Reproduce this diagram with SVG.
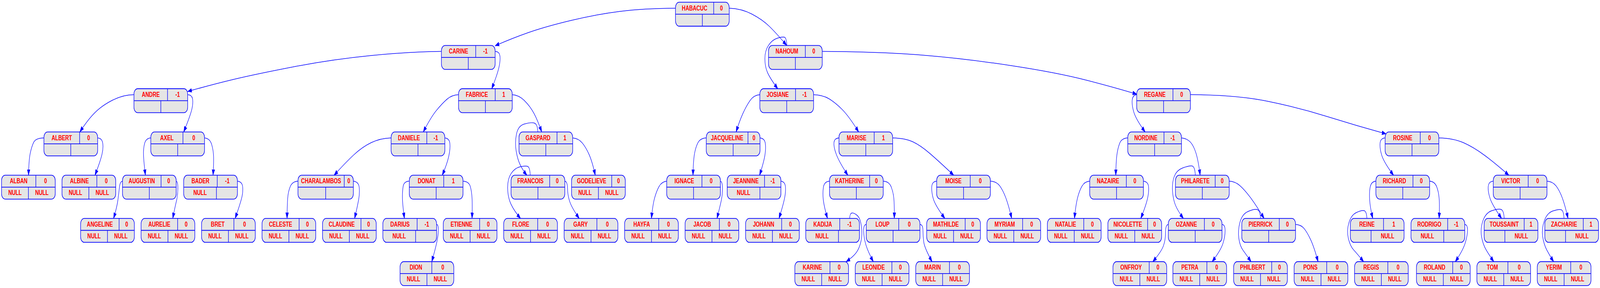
<svg xmlns="http://www.w3.org/2000/svg" width="5719" height="737" viewBox="0 0 5719 737" preserveAspectRatio="none" style="width:100vw;height:100vh;display:block">
<style>
.nb{fill:#e5e5e5;stroke:#0000ff;stroke-width:1.8}
.nd{fill:none;stroke:#0000ff;stroke-width:1.8}
.t{font-family:"Liberation Sans",Arial,Helvetica,sans-serif;font-weight:bold;font-size:18px;fill:#ff0000;text-anchor:middle}
.e{fill:none;stroke:#0000ff;stroke-width:1.5;marker-end:url(#ah)}
</style>
<defs>
<marker id="ah" markerUnits="userSpaceOnUse" markerWidth="16" markerHeight="12" viewBox="0 -6 16 12" refX="14.5" refY="0" orient="auto">
<path d="M0,-5 L14.5,0 L0,5 Z" fill="#0000ff" stroke="#0000ff" stroke-width="1"/>
</marker>
</defs>
<rect width="5719" height="737" fill="#ffffff"/>
<g id="edges">
<path class="e" d="M1577.8,131.5 Q1470,132 1328,142 Q1186,152 1049,171 Q912,190 836,203 Q760,216 671,234"/>
<path class="e" d="M478.8,242.3 Q440,242.5 402.4,256.3 Q364.8,270 339.7,287.8 Q314.6,305.5 285.5,337.6"/>
<path class="e" d="M670.8,242.3 Q685,242.5 688,252.3 Q691,262 686,278.5 Q681,295 656.6,337.6"/>
<path class="e" d="M157,352.9 Q128,353 120.5,364 Q113,375 108,392.5 Q103,410 102,448.3"/>
<path class="e" d="M349,352.9 Q364,353.5 367,365.8 Q370,378 364.5,395 Q359,412 339.5,448.3"/>
<path class="e" d="M539,352.9 Q522,353.5 517,366.8 Q512,380 513,397.5 Q514,415 519.8,448.3"/>
<path class="e" d="M731,352.9 Q750,354 756.5,369.5 Q763,385 763.5,402.5 Q764,420 761.5,448.3"/>
<path class="e" d="M437.8,463.5 Q429,464.5 426.8,479.8 Q424.5,495 421.3,512.5 Q418,530 406,558.9"/>
<path class="e" d="M629.8,463.5 Q636,465 635.8,482.5 Q635.5,500 630.8,514 Q626,528 617.4,558.9"/>
<path class="e" d="M848.6,463.5 Q866,465 867.5,479 Q869,493 863,509 Q857,525 840.5,558.9"/>
<path class="e" d="M1065,463.5 Q1045,464.5 1037.5,477.3 Q1030,490 1028.3,507.5 Q1026.5,525 1026,558.9"/>
<path class="e" d="M1263,463.5 Q1282,465 1284,480 Q1286,495 1281.5,512.5 Q1277,530 1267.6,558.9"/>
<path class="e" d="M2414.5,21 Q2300,21.5 2215,29.3 Q2130,37 2040,52.5 Q1950,68 1890,83 Q1830,98 1770,117"/>
<path class="e" d="M2606.5,21 Q2650,22 2687.5,36 Q2725,50 2750,67.5 Q2775,85 2811.7,116"/>
<path class="e" d="M1769.8,131.6 Q1785,132 1787,143.5 Q1789,155 1783,173.5 Q1777,192 1757.5,227.2"/>
<path class="e" d="M1639,242.3 Q1615,243 1597.5,254 Q1580,265 1560,282.5 Q1540,300 1513,337.6"/>
<path class="e" d="M1831,242.3 Q1855,243.5 1875,257.8 Q1895,272 1908.5,290 Q1922,308 1936.2,337.6"/>
<path class="e" d="M1398,352.9 Q1360,353.5 1327.5,364.8 Q1295,376 1265,396 Q1235,416 1194,448.5"/>
<path class="e" d="M1590,352.9 Q1606,354 1608,367 Q1610,380 1604,400 Q1598,420 1580.6,448.5"/>
<path class="e" d="M1922.6,337.6 Q1921,316 1908,314.5 Q1895,313 1873.5,317.5 Q1852,322 1846,343.5 Q1840,365 1845,386.5 Q1850,408 1859.5,422 Q1869,436 1883.4,448.5"/>
<path class="e" d="M2047,352.9 Q2068,354 2081.5,366 Q2095,378 2106,396 Q2117,414 2127.8,448.5"/>
<path class="e" d="M1463,463.5 Q1444,464 1441,477 Q1438,490 1438.5,507.5 Q1439,525 1445.6,558.9"/>
<path class="e" d="M1655,463.5 Q1676,464.5 1681,477.3 Q1686,490 1687.3,507.5 Q1688.5,525 1687.3,558.9"/>
<path class="e" d="M1560.5,574.2 Q1567,574.8 1567,587.4 Q1567,600 1561.5,619 Q1556,638 1543.2,669.7"/>
<path class="e" d="M1895.2,448.3 Q1894,427 1885,425.5 Q1876,424 1858,427 Q1840,430 1827,444 Q1814,458 1814.5,481.5 Q1815,505 1826.5,522.5 Q1838,540 1860.6,559"/>
<path class="e" d="M2018.8,463.5 Q2028,464.5 2028.5,482.3 Q2029,500 2036.5,516 Q2044,532 2070.3,559"/>
<path class="e" d="M2716,242.3 Q2694,243.5 2680.5,257.8 Q2667,272 2655,291 Q2643,310 2631.2,337.6"/>
<path class="e" d="M2524.5,352.9 Q2502,353.5 2493.5,366.8 Q2485,380 2481.5,397.5 Q2478,415 2477,448.5"/>
<path class="e" d="M2716.5,352.9 Q2733,354 2735.5,367 Q2738,380 2734,397.5 Q2730,415 2715,448.5"/>
<path class="e" d="M2383,463.5 Q2365,465 2355.5,477.5 Q2346,490 2339.5,507.5 Q2333,525 2328.4,558.9"/>
<path class="e" d="M2575,463.5 Q2582,465 2582.5,481 Q2583,497 2578,513.5 Q2573,530 2562.7,558.9"/>
<path class="e" d="M2791.3,463.5 Q2806,465 2807.5,478.5 Q2809,492 2803.5,510 Q2798,528 2784.4,558.9"/>
<path class="e" d="M2812.7,116.3 Q2811,96 2803,95 Q2795,94 2777.5,98 Q2760,102 2747,116 Q2734,130 2734,150 Q2734,170 2743,185 Q2752,200 2780,227.2"/>
<path class="e" d="M2939,131.6 Q3150,132.5 3300,141.3 Q3450,150 3615,168 Q3780,186 3885,205.5 Q3990,225 4063,241"/>
<path class="e" d="M2908,242.3 Q2940,243 2962.5,252.5 Q2985,262 3010,280 Q3035,298 3069,337.6"/>
<path class="e" d="M2998.7,352.9 Q2983,353.5 2981,364.3 Q2979,375 2989,394.5 Q2999,414 3030.6,448.5"/>
<path class="e" d="M3190.7,352.9 Q3235,353.5 3262.5,362.8 Q3290,372 3322.5,392 Q3355,412 3409,448.5"/>
<path class="e" d="M2965,463.5 Q2946,464.5 2943,479.8 Q2940,495 2943,512.5 Q2946,530 2957.7,558.9"/>
<path class="e" d="M3157,463.5 Q3178,464.5 3185.5,478.3 Q3193,492 3195,508.5 Q3197,525 3196.6,558.9"/>
<path class="e" d="M3037,558.9 Q3038,546 3045,545 Q3052,544 3063.5,551 Q3075,558 3079,579 Q3083,600 3077.5,617.5 Q3072,635 3061,646 Q3050,657 3024.3,669.7"/>
<path class="e" d="M3096.3,574.2 Q3086,575 3087,592.5 Q3088,610 3095.5,627.5 Q3103,645 3121.8,669.7"/>
<path class="e" d="M3288.3,574.2 Q3299,575 3299,590 Q3299,605 3302,620 Q3305,635 3331.6,669.7"/>
<path class="e" d="M3348,463.5 Q3332,464.5 3330.5,477.3 Q3329,490 3335.5,507.5 Q3342,525 3377.2,558.9"/>
<path class="e" d="M3540,463.5 Q3562,464.5 3573.5,475.8 Q3585,487 3595,506 Q3605,525 3616.2,558.9"/>
<path class="e" d="M4063,242.3 Q4049,243 4047,255.5 Q4045,268 4052.5,286.5 Q4060,305 4093,337.6"/>
<path class="e" d="M4031,352.9 Q4009,353.5 4002,366.8 Q3995,380 3992,397.5 Q3989,415 3988.2,448.5"/>
<path class="e" d="M4223,352.9 Q4242,354 4254,363 Q4266,372 4274.5,391 Q4283,410 4289.8,448.5"/>
<path class="e" d="M3895,463.5 Q3877,464.5 3867.5,476.3 Q3858,488 3851.5,506.5 Q3845,525 3840.5,558.9"/>
<path class="e" d="M4087,463.5 Q4104,465 4105.5,478.5 Q4107,492 4101,510 Q4095,528 4077.6,558.9"/>
<path class="e" d="M4272.5,448.3 Q4271,425 4259.5,424.5 Q4248,424 4226.5,430 Q4205,436 4197,452 Q4189,468 4191,489 Q4193,510 4201.5,525 Q4210,540 4230,559"/>
<path class="e" d="M4176,574.2 Q4166,575 4166,595 Q4166,615 4158,630 Q4150,645 4120.5,669.7"/>
<path class="e" d="M4368,574.2 Q4379,575 4379,590 Q4379,605 4371.5,622.5 Q4364,640 4332.6,669.7"/>
<path class="e" d="M4255,242.3 Q4420,243 4530,259 Q4640,275 4745,298.5 Q4850,322 4954,342.5"/>
<path class="e" d="M4393.6,463.5 Q4415,464.5 4431.5,474.8 Q4448,485 4469,505 Q4490,525 4518.3,559"/>
<path class="e" d="M4505.7,558.9 Q4504,537 4492,536 Q4480,535 4460,541.5 Q4440,548 4432,569 Q4424,590 4428,610 Q4432,630 4443.5,641 Q4455,652 4471.7,669.7"/>
<path class="e" d="M4630.7,574.2 Q4650,575 4661,584.5 Q4672,594 4684.5,613 Q4697,632 4711.3,669.7"/>
<path class="e" d="M4951,352.9 Q4935,353.5 4933,365.8 Q4931,378 4938.5,396.5 Q4946,415 4981.1,448.5"/>
<path class="e" d="M5143,352.9 Q5195,353.5 5231.5,365.3 Q5268,377 5306.5,397.5 Q5345,418 5393.3,448.5"/>
<path class="e" d="M4918,463.5 Q4902,464.5 4898,477.3 Q4894,490 4895.5,510 Q4897,530 4906.7,558.9"/>
<path class="e" d="M5110,463.5 Q5128,464.5 5135,477.3 Q5142,490 5144,507.5 Q5146,525 5144,558.9"/>
<path class="e" d="M4885.8,558.9 Q4884.5,540 4875.3,539 Q4866,538 4848,544 Q4830,550 4821.5,570 Q4813,590 4819.5,610 Q4826,630 4839,640 Q4852,650 4874.1,669.7"/>
<path class="e" d="M5235.5,574.2 Q5245,575 5245.5,587.5 Q5246,600 5238,620 Q5230,640 5201.7,669.7"/>
<path class="e" d="M5337.5,463.5 Q5321,464.5 5319.5,477.3 Q5318,490 5326,507.5 Q5334,525 5367.3,558.9"/>
<path class="e" d="M5529.5,463.5 Q5550,464.5 5562,475.8 Q5574,487 5584,506 Q5594,525 5604.6,558.9"/>
<path class="e" d="M5376.5,558.9 Q5375,537 5363.5,535.5 Q5352,534 5331,539.5 Q5310,545 5300.5,565 Q5291,585 5295.5,605 Q5300,625 5312.5,640 Q5325,655 5339.4,669.7"/>
<path class="e" d="M5590.4,558.9 Q5589,538 5579.5,536.5 Q5570,535 5550,540 Q5530,545 5520,565 Q5510,585 5514,605 Q5518,625 5529,640 Q5540,655 5553.4,669.7"/>
</g>
<g id="n-HABACUC" transform="translate(2414.5,5.7)"><rect class="nb" width="192" height="61.3" rx="13.5"/><path class="nd" d="M0,30.6H192M136.5,0V30.6M96,30.6V61.3"/><text class="t" x="68.25" y="21">HABACUC</text><text class="t" x="164.25" y="21">0</text></g>
<g id="n-CARINE" transform="translate(1577.8,116.3)"><rect class="nb" width="192" height="61.3" rx="13.5"/><path class="nd" d="M0,30.6H192M122.5,0V30.6M96,30.6V61.3"/><text class="t" x="61.25" y="21">CARINE</text><text class="t" x="157.25" y="21">-1</text></g>
<g id="n-NAHOUM" transform="translate(2747,116.3)"><rect class="nb" width="192" height="61.3" rx="13.5"/><path class="nd" d="M0,30.6H192M131.5,0V30.6M96,30.6V61.3"/><text class="t" x="65.75" y="21">NAHOUM</text><text class="t" x="161.75" y="21">0</text></g>
<g id="n-ANDRE" transform="translate(478.8,227)"><rect class="nb" width="192" height="61.3" rx="13.5"/><path class="nd" d="M0,30.6H192M120,0V30.6M96,30.6V61.3"/><text class="t" x="60" y="21">ANDRE</text><text class="t" x="156" y="21">-1</text></g>
<g id="n-FABRICE" transform="translate(1639,227)"><rect class="nb" width="192" height="61.3" rx="13.5"/><path class="nd" d="M0,30.6H192M131,0V30.6M96,30.6V61.3"/><text class="t" x="65.5" y="21">FABRICE</text><text class="t" x="161.5" y="21">1</text></g>
<g id="n-JOSIANE" transform="translate(2716,227)"><rect class="nb" width="192" height="61.3" rx="13.5"/><path class="nd" d="M0,30.6H192M127.5,0V30.6M96,30.6V61.3"/><text class="t" x="63.75" y="21">JOSIANE</text><text class="t" x="159.75" y="21">-1</text></g>
<g id="n-REGANE" transform="translate(4063,227)"><rect class="nb" width="192" height="61.3" rx="13.5"/><path class="nd" d="M0,30.6H192M129.5,0V30.6M96,30.6V61.3"/><text class="t" x="64.75" y="21">REGANE</text><text class="t" x="160.75" y="21">0</text></g>
<g id="n-ALBERT" transform="translate(157,337.6)"><rect class="nb" width="192" height="61.3" rx="13.5"/><path class="nd" d="M0,30.6H192M127.5,0V30.6M96,30.6V61.3"/><text class="t" x="63.75" y="21">ALBERT</text><text class="t" x="159.75" y="21">0</text></g>
<g id="n-AXEL" transform="translate(539,337.6)"><rect class="nb" width="192" height="61.3" rx="13.5"/><path class="nd" d="M0,30.6H192M115,0V30.6M96,30.6V61.3"/><text class="t" x="57.5" y="21">AXEL</text><text class="t" x="153.5" y="21">0</text></g>
<g id="n-DANIELE" transform="translate(1398,337.6)"><rect class="nb" width="192" height="61.3" rx="13.5"/><path class="nd" d="M0,30.6H192M127.5,0V30.6M96,30.6V61.3"/><text class="t" x="63.75" y="21">DANIELE</text><text class="t" x="159.75" y="21">-1</text></g>
<g id="n-GASPARD" transform="translate(1855,337.6)"><rect class="nb" width="192" height="61.3" rx="13.5"/><path class="nd" d="M0,30.6H192M136,0V30.6M96,30.6V61.3"/><text class="t" x="68" y="21">GASPARD</text><text class="t" x="164" y="21">1</text></g>
<g id="n-JACQUELINE" transform="translate(2524.5,337.6)"><rect class="nb" width="192" height="61.3" rx="13.5"/><path class="nd" d="M0,30.6H192M149,0V30.6M96,30.6V61.3"/><text class="t" x="74.5" y="21">JACQUELINE</text><text class="t" x="170.5" y="21">0</text></g>
<g id="n-MARISE" transform="translate(2998.7,337.6)"><rect class="nb" width="192" height="61.3" rx="13.5"/><path class="nd" d="M0,30.6H192M126,0V30.6M96,30.6V61.3"/><text class="t" x="63" y="21">MARISE</text><text class="t" x="159" y="21">1</text></g>
<g id="n-NORDINE" transform="translate(4031,337.6)"><rect class="nb" width="192" height="61.3" rx="13.5"/><path class="nd" d="M0,30.6H192M129.5,0V30.6M96,30.6V61.3"/><text class="t" x="64.75" y="21">NORDINE</text><text class="t" x="160.75" y="21">-1</text></g>
<g id="n-ROSINE" transform="translate(4951,337.6)"><rect class="nb" width="192" height="61.3" rx="13.5"/><path class="nd" d="M0,30.6H192M125.5,0V30.6M96,30.6V61.3"/><text class="t" x="62.75" y="21">ROSINE</text><text class="t" x="158.75" y="21">0</text></g>
<g id="n-ALBAN" transform="translate(5.5,448.3)"><rect class="nb" width="192" height="61.3" rx="13.5"/><path class="nd" d="M0,30.6H192M122.5,0V30.6M96,30.6V61.3"/><text class="t" x="61.25" y="21">ALBAN</text><text class="t" x="157.25" y="21">0</text><text class="t" x="48" y="51">NULL</text><text class="t" x="144" y="51">NULL</text></g>
<g id="n-ALBINE" transform="translate(221.6,448.3)"><rect class="nb" width="192" height="61.3" rx="13.5"/><path class="nd" d="M0,30.6H192M124.5,0V30.6M96,30.6V61.3"/><text class="t" x="62.25" y="21">ALBINE</text><text class="t" x="158.25" y="21">0</text><text class="t" x="48" y="51">NULL</text><text class="t" x="144" y="51">NULL</text></g>
<g id="n-AUGUSTIN" transform="translate(437.8,448.3)"><rect class="nb" width="192" height="61.3" rx="13.5"/><path class="nd" d="M0,30.6H192M138,0V30.6M96,30.6V61.3"/><text class="t" x="69" y="21">AUGUSTIN</text><text class="t" x="165" y="21">0</text></g>
<g id="n-BADER" transform="translate(656.6,448.3)"><rect class="nb" width="192" height="61.3" rx="13.5"/><path class="nd" d="M0,30.6H192M120,0V30.6M117,30.6V61.3"/><text class="t" x="60" y="21">BADER</text><text class="t" x="156" y="21">-1</text><text class="t" x="58.5" y="51">NULL</text></g>
<g id="n-CHARALAMBOS" transform="translate(1065,448.3)"><rect class="nb" width="198" height="61.3" rx="13.5"/><path class="nd" d="M0,30.6H198M165.5,0V30.6M99,30.6V61.3"/><text class="t" x="82.75" y="21">CHARALAMBOS</text><text class="t" x="181.75" y="21">0</text></g>
<g id="n-DONAT" transform="translate(1463,448.3)"><rect class="nb" width="192" height="61.3" rx="13.5"/><path class="nd" d="M0,30.6H192M123,0V30.6M96,30.6V61.3"/><text class="t" x="61.5" y="21">DONAT</text><text class="t" x="157.5" y="21">1</text></g>
<g id="n-FRANCOIS" transform="translate(1826.8,448.3)"><rect class="nb" width="192" height="61.3" rx="13.5"/><path class="nd" d="M0,30.6H192M138,0V30.6M96,30.6V61.3"/><text class="t" x="69" y="21">FRANCOIS</text><text class="t" x="165" y="21">0</text></g>
<g id="n-GODELIEVE" transform="translate(2043,448.3)"><rect class="nb" width="192" height="61.3" rx="13.5"/><path class="nd" d="M0,30.6H192M143.5,0V30.6M96,30.6V61.3"/><text class="t" x="71.75" y="21">GODELIEVE</text><text class="t" x="167.75" y="21">0</text><text class="t" x="48" y="51">NULL</text><text class="t" x="144" y="51">NULL</text></g>
<g id="n-IGNACE" transform="translate(2383,448.3)"><rect class="nb" width="192" height="61.3" rx="13.5"/><path class="nd" d="M0,30.6H192M126,0V30.6M96,30.6V61.3"/><text class="t" x="63" y="21">IGNACE</text><text class="t" x="159" y="21">0</text></g>
<g id="n-JEANNINE" transform="translate(2599.3,448.3)"><rect class="nb" width="192" height="61.3" rx="13.5"/><path class="nd" d="M0,30.6H192M133.5,0V30.6M117,30.6V61.3"/><text class="t" x="66.75" y="21">JEANNINE</text><text class="t" x="162.75" y="21">-1</text><text class="t" x="58.5" y="51">NULL</text></g>
<g id="n-KATHERINE" transform="translate(2965,448.3)"><rect class="nb" width="192" height="61.3" rx="13.5"/><path class="nd" d="M0,30.6H192M143.5,0V30.6M96,30.6V61.3"/><text class="t" x="71.75" y="21">KATHERINE</text><text class="t" x="167.75" y="21">0</text></g>
<g id="n-MOISE" transform="translate(3348,448.3)"><rect class="nb" width="192" height="61.3" rx="13.5"/><path class="nd" d="M0,30.6H192M120,0V30.6M96,30.6V61.3"/><text class="t" x="60" y="21">MOISE</text><text class="t" x="156" y="21">0</text></g>
<g id="n-NAZAIRE" transform="translate(3895,448.3)"><rect class="nb" width="192" height="61.3" rx="13.5"/><path class="nd" d="M0,30.6H192M131,0V30.6M96,30.6V61.3"/><text class="t" x="65.5" y="21">NAZAIRE</text><text class="t" x="161.5" y="21">0</text></g>
<g id="n-PHILARETE" transform="translate(4201.6,448.3)"><rect class="nb" width="192" height="61.3" rx="13.5"/><path class="nd" d="M0,30.6H192M142,0V30.6M96,30.6V61.3"/><text class="t" x="71" y="21">PHILARETE</text><text class="t" x="167" y="21">0</text></g>
<g id="n-RICHARD" transform="translate(4918,448.3)"><rect class="nb" width="192" height="61.3" rx="13.5"/><path class="nd" d="M0,30.6H192M132.5,0V30.6M96,30.6V61.3"/><text class="t" x="66.25" y="21">RICHARD</text><text class="t" x="162.25" y="21">0</text></g>
<g id="n-VICTOR" transform="translate(5337.5,448.3)"><rect class="nb" width="192" height="61.3" rx="13.5"/><path class="nd" d="M0,30.6H192M125,0V30.6M96,30.6V61.3"/><text class="t" x="62.5" y="21">VICTOR</text><text class="t" x="158.5" y="21">0</text></g>
<g id="n-ANGELINE" transform="translate(288.2,558.9)"><rect class="nb" width="192" height="61.3" rx="13.5"/><path class="nd" d="M0,30.6H192M137.5,0V30.6M96,30.6V61.3"/><text class="t" x="68.75" y="21">ANGELINE</text><text class="t" x="164.75" y="21">0</text><text class="t" x="48" y="51">NULL</text><text class="t" x="144" y="51">NULL</text></g>
<g id="n-AURELIE" transform="translate(504.3,558.9)"><rect class="nb" width="192" height="61.3" rx="13.5"/><path class="nd" d="M0,30.6H192M130.5,0V30.6M96,30.6V61.3"/><text class="t" x="65.25" y="21">AURELIE</text><text class="t" x="161.25" y="21">0</text><text class="t" x="48" y="51">NULL</text><text class="t" x="144" y="51">NULL</text></g>
<g id="n-BRET" transform="translate(720.5,558.9)"><rect class="nb" width="192" height="61.3" rx="13.5"/><path class="nd" d="M0,30.6H192M115.5,0V30.6M96,30.6V61.3"/><text class="t" x="57.75" y="21">BRET</text><text class="t" x="153.75" y="21">0</text><text class="t" x="48" y="51">NULL</text><text class="t" x="144" y="51">NULL</text></g>
<g id="n-CELESTE" transform="translate(936.6,558.9)"><rect class="nb" width="192" height="61.3" rx="13.5"/><path class="nd" d="M0,30.6H192M132.5,0V30.6M96,30.6V61.3"/><text class="t" x="66.25" y="21">CELESTE</text><text class="t" x="162.25" y="21">0</text><text class="t" x="48" y="51">NULL</text><text class="t" x="144" y="51">NULL</text></g>
<g id="n-CLAUDINE" transform="translate(1152.8,558.9)"><rect class="nb" width="192" height="61.3" rx="13.5"/><path class="nd" d="M0,30.6H192M137.5,0V30.6M96,30.6V61.3"/><text class="t" x="68.75" y="21">CLAUDINE</text><text class="t" x="164.75" y="21">0</text><text class="t" x="48" y="51">NULL</text><text class="t" x="144" y="51">NULL</text></g>
<g id="n-DARIUS" transform="translate(1368.5,558.9)"><rect class="nb" width="192" height="61.3" rx="13.5"/><path class="nd" d="M0,30.6H192M122.5,0V30.6M117,30.6V61.3"/><text class="t" x="61.25" y="21">DARIUS</text><text class="t" x="157.25" y="21">-1</text><text class="t" x="58.5" y="51">NULL</text></g>
<g id="n-ETIENNE" transform="translate(1584.4,558.9)"><rect class="nb" width="192" height="61.3" rx="13.5"/><path class="nd" d="M0,30.6H192M130,0V30.6M96,30.6V61.3"/><text class="t" x="65" y="21">ETIENNE</text><text class="t" x="161" y="21">0</text><text class="t" x="48" y="51">NULL</text><text class="t" x="144" y="51">NULL</text></g>
<g id="n-FLORE" transform="translate(1800.4,558.9)"><rect class="nb" width="192" height="61.3" rx="13.5"/><path class="nd" d="M0,30.6H192M121.5,0V30.6M96,30.6V61.3"/><text class="t" x="60.75" y="21">FLORE</text><text class="t" x="156.75" y="21">0</text><text class="t" x="48" y="51">NULL</text><text class="t" x="144" y="51">NULL</text></g>
<g id="n-GARY" transform="translate(2016.5,558.9)"><rect class="nb" width="192" height="61.3" rx="13.5"/><path class="nd" d="M0,30.6H192M117,0V30.6M96,30.6V61.3"/><text class="t" x="58.5" y="21">GARY</text><text class="t" x="154.5" y="21">0</text><text class="t" x="48" y="51">NULL</text><text class="t" x="144" y="51">NULL</text></g>
<g id="n-HAYFA" transform="translate(2232.6,558.9)"><rect class="nb" width="192" height="61.3" rx="13.5"/><path class="nd" d="M0,30.6H192M122,0V30.6M96,30.6V61.3"/><text class="t" x="61" y="21">HAYFA</text><text class="t" x="157" y="21">0</text><text class="t" x="48" y="51">NULL</text><text class="t" x="144" y="51">NULL</text></g>
<g id="n-JACOB" transform="translate(2448.8,558.9)"><rect class="nb" width="192" height="61.3" rx="13.5"/><path class="nd" d="M0,30.6H192M122.5,0V30.6M96,30.6V61.3"/><text class="t" x="61.25" y="21">JACOB</text><text class="t" x="157.25" y="21">0</text><text class="t" x="48" y="51">NULL</text><text class="t" x="144" y="51">NULL</text></g>
<g id="n-JOHANN" transform="translate(2665,558.9)"><rect class="nb" width="192" height="61.3" rx="13.5"/><path class="nd" d="M0,30.6H192M129,0V30.6M96,30.6V61.3"/><text class="t" x="64.5" y="21">JOHANN</text><text class="t" x="160.5" y="21">0</text><text class="t" x="48" y="51">NULL</text><text class="t" x="144" y="51">NULL</text></g>
<g id="n-KADIJA" transform="translate(2880,558.9)"><rect class="nb" width="192" height="61.3" rx="13.5"/><path class="nd" d="M0,30.6H192M121.5,0V30.6M117,30.6V61.3"/><text class="t" x="60.75" y="21">KADIJA</text><text class="t" x="156.75" y="21">-1</text><text class="t" x="58.5" y="51">NULL</text></g>
<g id="n-LOUP" transform="translate(3096.3,558.9)"><rect class="nb" width="192" height="61.3" rx="13.5"/><path class="nd" d="M0,30.6H192M116,0V30.6M96,30.6V61.3"/><text class="t" x="58" y="21">LOUP</text><text class="t" x="154" y="21">0</text></g>
<g id="n-MATHILDE" transform="translate(3312.4,558.9)"><rect class="nb" width="192" height="61.3" rx="13.5"/><path class="nd" d="M0,30.6H192M137.5,0V30.6M96,30.6V61.3"/><text class="t" x="68.75" y="21">MATHILDE</text><text class="t" x="164.75" y="21">0</text><text class="t" x="48" y="51">NULL</text><text class="t" x="144" y="51">NULL</text></g>
<g id="n-MYRIAM" transform="translate(3527.7,558.9)"><rect class="nb" width="192" height="61.3" rx="13.5"/><path class="nd" d="M0,30.6H192M127.5,0V30.6M96,30.6V61.3"/><text class="t" x="63.75" y="21">MYRIAM</text><text class="t" x="159.75" y="21">0</text><text class="t" x="48" y="51">NULL</text><text class="t" x="144" y="51">NULL</text></g>
<g id="n-NATALIE" transform="translate(3743.8,558.9)"><rect class="nb" width="192" height="61.3" rx="13.5"/><path class="nd" d="M0,30.6H192M130,0V30.6M96,30.6V61.3"/><text class="t" x="65" y="21">NATALIE</text><text class="t" x="161" y="21">0</text><text class="t" x="48" y="51">NULL</text><text class="t" x="144" y="51">NULL</text></g>
<g id="n-NICOLETTE" transform="translate(3960,558.9)"><rect class="nb" width="192" height="61.3" rx="13.5"/><path class="nd" d="M0,30.6H192M142,0V30.6M96,30.6V61.3"/><text class="t" x="71" y="21">NICOLETTE</text><text class="t" x="167" y="21">0</text><text class="t" x="48" y="51">NULL</text><text class="t" x="144" y="51">NULL</text></g>
<g id="n-OZANNE" transform="translate(4176,558.9)"><rect class="nb" width="192" height="61.3" rx="13.5"/><path class="nd" d="M0,30.6H192M129,0V30.6M96,30.6V61.3"/><text class="t" x="64.5" y="21">OZANNE</text><text class="t" x="160.5" y="21">0</text></g>
<g id="n-PIERRICK" transform="translate(4438.7,558.9)"><rect class="nb" width="192" height="61.3" rx="13.5"/><path class="nd" d="M0,30.6H192M134,0V30.6M96,30.6V61.3"/><text class="t" x="67" y="21">PIERRICK</text><text class="t" x="163" y="21">0</text></g>
<g id="n-REINE" transform="translate(4826.7,558.9)"><rect class="nb" width="192" height="61.3" rx="13.5"/><path class="nd" d="M0,30.6H192M118.5,0V30.6M74,30.6V61.3"/><text class="t" x="59.25" y="21">REINE</text><text class="t" x="155.25" y="21">1</text><text class="t" x="133" y="51">NULL</text></g>
<g id="n-RODRIGO" transform="translate(5043.5,558.9)"><rect class="nb" width="192" height="61.3" rx="13.5"/><path class="nd" d="M0,30.6H192M131,0V30.6M117,30.6V61.3"/><text class="t" x="65.5" y="21">RODRIGO</text><text class="t" x="161.5" y="21">-1</text><text class="t" x="58.5" y="51">NULL</text></g>
<g id="n-TOUSSAINT" transform="translate(5305,558.9)"><rect class="nb" width="192" height="61.3" rx="13.5"/><path class="nd" d="M0,30.6H192M143,0V30.6M74,30.6V61.3"/><text class="t" x="71.5" y="21">TOUSSAINT</text><text class="t" x="167.5" y="21">1</text><text class="t" x="133" y="51">NULL</text></g>
<g id="n-ZACHARIE" transform="translate(5521.8,558.9)"><rect class="nb" width="192" height="61.3" rx="13.5"/><path class="nd" d="M0,30.6H192M137.5,0V30.6M74,30.6V61.3"/><text class="t" x="68.75" y="21">ZACHARIE</text><text class="t" x="164.75" y="21">1</text><text class="t" x="133" y="51">NULL</text></g>
<g id="n-DION" transform="translate(1430,669.5)"><rect class="nb" width="192" height="61.3" rx="13.5"/><path class="nd" d="M0,30.6H192M113.5,0V30.6M96,30.6V61.3"/><text class="t" x="56.75" y="21">DION</text><text class="t" x="152.75" y="21">0</text><text class="t" x="48" y="51">NULL</text><text class="t" x="144" y="51">NULL</text></g>
<g id="n-KARINE" transform="translate(2841,669.5)"><rect class="nb" width="192" height="61.3" rx="13.5"/><path class="nd" d="M0,30.6H192M125.5,0V30.6M96,30.6V61.3"/><text class="t" x="62.75" y="21">KARINE</text><text class="t" x="158.75" y="21">0</text><text class="t" x="48" y="51">NULL</text><text class="t" x="144" y="51">NULL</text></g>
<g id="n-LEONIDE" transform="translate(3057,669.5)"><rect class="nb" width="192" height="61.3" rx="13.5"/><path class="nd" d="M0,30.6H192M131,0V30.6M96,30.6V61.3"/><text class="t" x="65.5" y="21">LEONIDE</text><text class="t" x="161.5" y="21">0</text><text class="t" x="48" y="51">NULL</text><text class="t" x="144" y="51">NULL</text></g>
<g id="n-MARIN" transform="translate(3273.2,669.5)"><rect class="nb" width="192" height="61.3" rx="13.5"/><path class="nd" d="M0,30.6H192M120.5,0V30.6M96,30.6V61.3"/><text class="t" x="60.25" y="21">MARIN</text><text class="t" x="156.25" y="21">0</text><text class="t" x="48" y="51">NULL</text><text class="t" x="144" y="51">NULL</text></g>
<g id="n-ONFROY" transform="translate(3978.2,669.5)"><rect class="nb" width="192" height="61.3" rx="13.5"/><path class="nd" d="M0,30.6H192M129.5,0V30.6M96,30.6V61.3"/><text class="t" x="64.75" y="21">ONFROY</text><text class="t" x="160.75" y="21">0</text><text class="t" x="48" y="51">NULL</text><text class="t" x="144" y="51">NULL</text></g>
<g id="n-PETRA" transform="translate(4192.3,669.5)"><rect class="nb" width="192" height="61.3" rx="13.5"/><path class="nd" d="M0,30.6H192M121.5,0V30.6M96,30.6V61.3"/><text class="t" x="60.75" y="21">PETRA</text><text class="t" x="156.75" y="21">0</text><text class="t" x="48" y="51">NULL</text><text class="t" x="144" y="51">NULL</text></g>
<g id="n-PHILBERT" transform="translate(4409.5,669.5)"><rect class="nb" width="192" height="61.3" rx="13.5"/><path class="nd" d="M0,30.6H192M136,0V30.6M96,30.6V61.3"/><text class="t" x="68" y="21">PHILBERT</text><text class="t" x="164" y="21">0</text><text class="t" x="48" y="51">NULL</text><text class="t" x="144" y="51">NULL</text></g>
<g id="n-PONS" transform="translate(4625.7,669.5)"><rect class="nb" width="192" height="61.3" rx="13.5"/><path class="nd" d="M0,30.6H192M116.5,0V30.6M96,30.6V61.3"/><text class="t" x="58.25" y="21">PONS</text><text class="t" x="154.25" y="21">0</text><text class="t" x="48" y="51">NULL</text><text class="t" x="144" y="51">NULL</text></g>
<g id="n-REGIS" transform="translate(4841.6,669.5)"><rect class="nb" width="192" height="61.3" rx="13.5"/><path class="nd" d="M0,30.6H192M119,0V30.6M96,30.6V61.3"/><text class="t" x="59.5" y="21">REGIS</text><text class="t" x="155.5" y="21">0</text><text class="t" x="48" y="51">NULL</text><text class="t" x="144" y="51">NULL</text></g>
<g id="n-ROLAND" transform="translate(5063,669.5)"><rect class="nb" width="192" height="61.3" rx="13.5"/><path class="nd" d="M0,30.6H192M129.5,0V30.6M96,30.6V61.3"/><text class="t" x="64.75" y="21">ROLAND</text><text class="t" x="160.75" y="21">0</text><text class="t" x="48" y="51">NULL</text><text class="t" x="144" y="51">NULL</text></g>
<g id="n-TOM" transform="translate(5278.9,669.5)"><rect class="nb" width="192" height="61.3" rx="13.5"/><path class="nd" d="M0,30.6H192M111,0V30.6M96,30.6V61.3"/><text class="t" x="55.5" y="21">TOM</text><text class="t" x="151.5" y="21">0</text><text class="t" x="48" y="51">NULL</text><text class="t" x="144" y="51">NULL</text></g>
<g id="n-YERIM" transform="translate(5494.8,669.5)"><rect class="nb" width="192" height="61.3" rx="13.5"/><path class="nd" d="M0,30.6H192M119.5,0V30.6M96,30.6V61.3"/><text class="t" x="59.75" y="21">YERIM</text><text class="t" x="155.75" y="21">0</text><text class="t" x="48" y="51">NULL</text><text class="t" x="144" y="51">NULL</text></g>
</svg>
